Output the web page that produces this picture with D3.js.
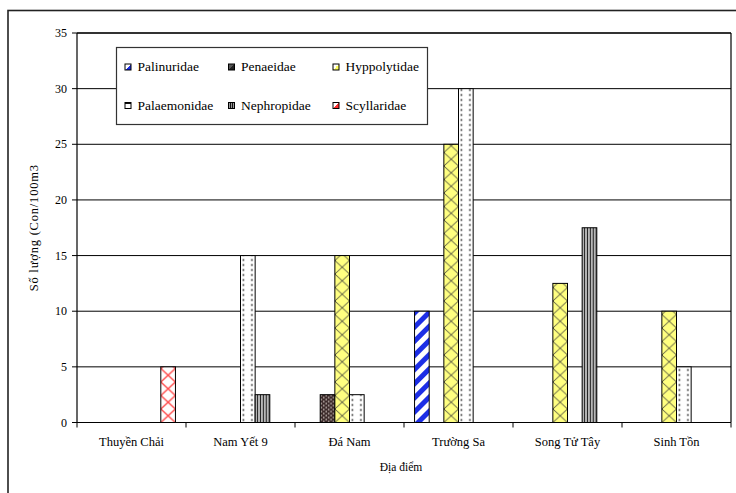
<!DOCTYPE html>
<html>
<head>
<meta charset="utf-8">
<script src="https://cdn.jsdelivr.net/npm/d3@7"></script>
</head>
<body style="margin:0;padding:0;background:#fff">
<svg id="chart" width="736" height="493" style="display:block"></svg>
<script>
// ---------- data ----------
const categories = ["Thuyền Chải", "Nam Yết 9", "Đá Nam", "Trường Sa", "Song Tử Tây", "Sinh Tồn"];
const seriesNames = ["Palinuridae", "Penaeidae", "Hyppolytidae", "Palaemonidae", "Nephropidae", "Scyllaridae"];
const palinuridae  = [0, 0, 0, 10, 0, 0];
const penaeidae    = [0, 0, 2.5, 0, 0, 0];
const hyppolytidae = [0, 0, 15, 25, 12.5, 10];
const palaemonidae = [0, 15, 2.5, 30, 0, 5];
const nephropidae  = [0, 2.5, 0, 0, 17.5, 0];
const scyllaridae  = [5, 0, 0, 0, 0, 0];
const yTicks = [0, 5, 10, 15, 20, 25, 30, 35];
const yTitle = "Số lượng (Con/100m3";
const xTitle = "Địa điểm";

const seriesValues = [palinuridae, penaeidae, hyppolytidae, palaemonidae, nephropidae, scyllaridae];
const FONT = "'Liberation Serif'";

// ---------- layout ----------
const svg = d3.select("#chart");
const defs = svg.append("defs");
const plot = { left: 77, right: 731, top: 33, bottom: 422.5 };

const x = d3.scaleBand().domain(categories).range([plot.left, plot.right]).paddingInner(0).paddingOuter(0);
const xs = d3.scaleBand().domain(seriesNames).range([0, x.bandwidth()]).paddingInner(0).paddingOuter(0.72);
const y = d3.scaleLinear().domain([0, 35]).range([plot.bottom, plot.top]);

function label(sel) {
  return sel.attr("font-family", "Liberation Serif").style("font-family", FONT).attr("fill", "#000");
}

// outer frame
svg.append("rect").attr("x", 8).attr("y", 10.5).attr("width", 760).attr("height", 520)
  .attr("fill", "none").attr("stroke", "#222").attr("stroke-width", 1.6);

// gridlines
svg.append("g").selectAll("line").data(yTicks.filter(d => d > 0 && d < 35)).join("line")
  .attr("x1", plot.left).attr("x2", plot.right)
  .attr("y1", d => y(d)).attr("y2", d => y(d))
  .attr("stroke", "#000").attr("stroke-width", 1);

// plot border
svg.append("line").attr("x1", plot.left).attr("x2", plot.right).attr("y1", plot.top).attr("y2", plot.top)
  .attr("stroke", "#333").attr("stroke-width", 2);
svg.append("line").attr("x1", plot.right).attr("x2", plot.right).attr("y1", plot.top).attr("y2", plot.bottom)
  .attr("stroke", "#000").attr("stroke-width", 1.2);

// ---------- patterns ----------
function makePattern(id, s, px, py) {
  const p = defs.append("pattern").attr("id", id).attr("patternUnits", "userSpaceOnUse");
  if (s === 0) { // blue diagonal stripes
    p.attr("width", 10).attr("height", 10).attr("patternTransform", `translate(${px},${py}) rotate(45)`);
    p.append("rect").attr("width", 10).attr("height", 10).attr("fill", "#fff");
    p.append("rect").attr("width", 5).attr("height", 10).attr("fill", "#1c2ee6");
  } else if (s === 1) { // dark with light dots
    p.attr("width", 4.8).attr("height", 4).attr("x", px).attr("y", py);
    p.append("rect").attr("width", 4.8).attr("height", 4).attr("fill", "#3a2828");
    p.append("circle").attr("cx", 1.2).attr("cy", 1).attr("r", 0.85).attr("fill", "#d8cfc8");
    p.append("circle").attr("cx", 3.6).attr("cy", 3).attr("r", 0.85).attr("fill", "#d8cfc8");
  } else if (s === 2 || s === 5) { // crosshatch lattice
    const w = 14.6, h = 13.5;
    const col = s === 2 ? "#333" : "#ff4a4a";
    const bg = s === 2 ? "#ffff80" : "#fff";
    const sw = s === 2 ? 0.9 : 1.4;
    p.attr("width", w).attr("height", h).attr("x", px).attr("y", py);
    p.append("rect").attr("width", w).attr("height", h).attr("fill", bg);
    p.append("path").attr("d", `M0,0L${w},${h}M${w},0L0,${h}M${-w/2},${h/2}L0,${h}M${w/2},${-h/2}L${w},0`)
      .attr("stroke", col).attr("stroke-width", sw).attr("fill", "none");
  } else if (s === 3) { // white with dark dots
    p.attr("width", 8.4).attr("height", 5).attr("x", px).attr("y", py);
    p.append("rect").attr("width", 8.4).attr("height", 5).attr("fill", "#fff");
    p.append("rect").attr("x", 2.2).attr("y", 1.7).attr("width", 1.6).attr("height", 1.6).attr("fill", "#222");
  } else if (s === 4) { // vertical stripes
    p.attr("width", 2.9).attr("height", 10).attr("x", px).attr("y", py);
    p.append("rect").attr("width", 2.9).attr("height", 10).attr("fill", "#b8b8b8");
    p.append("rect").attr("x", 1.9).attr("width", 1).attr("height", 10).attr("fill", "#222");
  }
  return `url(#${id})`;
}

// ---------- bars ----------
const barData = [];
seriesValues.forEach((vals, s) => {
  vals.forEach((v, c) => {
    if (v > 0) barData.push({ s, c, v, cat: categories[c], name: seriesNames[s] });
  });
});

svg.append("g").selectAll("rect").data(barData).join("rect")
  .attr("x", d => x(d.cat) + xs(d.name))
  .attr("y", d => y(d.v))
  .attr("width", xs.bandwidth())
  .attr("height", d => y(0) - y(d.v))
  .attr("fill", (d, i) => makePattern(`bp${i}`, d.s, x(d.cat) + xs(d.name), y(0)))
  .attr("stroke", "#000").attr("stroke-width", 1);

// ---------- axes ----------
const yAxis = svg.append("g");
yAxis.append("line").attr("x1", plot.left).attr("x2", plot.left).attr("y1", plot.top).attr("y2", plot.bottom)
  .attr("stroke", "#000").attr("stroke-width", 1.2);
yAxis.selectAll("line.tk").data(yTicks).join("line").attr("class", "tk")
  .attr("x1", plot.left - 5).attr("x2", plot.left).attr("y1", d => y(d)).attr("y2", d => y(d))
  .attr("stroke", "#000");
yAxis.selectAll("text").data(yTicks).join("text")
  .attr("x", 67).attr("y", d => y(d)).attr("dy", "0.34em")
  .attr("text-anchor", "end").attr("font-size", 12)
  .call(label)
  .text(d => d);

const xAxis = svg.append("g");
xAxis.append("line").attr("x1", plot.left).attr("x2", plot.right).attr("y1", plot.bottom).attr("y2", plot.bottom)
  .attr("stroke", "#000").attr("stroke-width", 1.2);
const bounds = categories.map(c => x(c)).concat([plot.right]);
xAxis.selectAll("line.tk").data(bounds).join("line").attr("class", "tk")
  .attr("x1", d => d).attr("x2", d => d).attr("y1", plot.bottom).attr("y2", plot.bottom + 5)
  .attr("stroke", "#000");
xAxis.selectAll("text").data(categories).join("text")
  .attr("x", d => x(d) + x.bandwidth() / 2).attr("y", 446)
  .attr("text-anchor", "middle").attr("font-size", 12.5)
  .call(label)
  .text(d => d);

// axis titles
svg.append("text").attr("transform", `translate(38,${(plot.top + plot.bottom) / 2}) rotate(-90)`)
  .attr("text-anchor", "middle").attr("font-size", 12.5).attr("letter-spacing", 0.8)
  .call(label)
  .text(yTitle);
svg.append("text").attr("x", 401).attr("y", 471)
  .attr("text-anchor", "middle").attr("font-size", 11.5)
  .call(label)
  .text(xTitle);

// ---------- legend ----------
const legend = svg.append("g");
legend.append("rect").attr("x", 116.5).attr("y", 47.5).attr("width", 311).attr("height", 77)
  .attr("fill", "#fff").attr("stroke", "#333").attr("stroke-width", 1.2);
const colX = [125, 228.5, 333];
const rowY = [64, 102.5];
const swatchFill = [
  ["#fff", "#1c2ee6"], ["#555", "#222"], ["#fff", "#ffff60"],
  ["#222", "#fff"], null, ["#fff", "#ff3030"]
];
seriesNames.forEach((name, i) => {
  const cx = colX[i % 3], cy = rowY[Math.floor(i / 3)];
  const g = legend.append("g").attr("transform", `translate(${cx},${cy})`);
  if (i === 4) {
    g.append("rect").attr("width", 6).attr("height", 6).attr("fill", "#999");
    [1.5, 3.5].forEach(xx => g.append("rect").attr("x", xx).attr("width", 1).attr("height", 6).attr("fill", "#111"));
  } else if (i === 3) {
    g.append("rect").attr("width", 6).attr("height", 6).attr("fill", "#fff");
    g.append("rect").attr("width", 6).attr("height", 1.5).attr("fill", "#111");
  } else {
    const gid = `lg${i}`;
    const lg = defs.append("linearGradient").attr("id", gid).attr("x1", 0).attr("y1", 0).attr("x2", 1).attr("y2", 1);
    lg.append("stop").attr("offset", "50%").attr("stop-color", swatchFill[i][0]);
    lg.append("stop").attr("offset", "50%").attr("stop-color", swatchFill[i][1]);
    g.append("rect").attr("width", 6).attr("height", 6).attr("fill", `url(#${gid})`);
  }
  g.append("rect").attr("width", 6).attr("height", 6).attr("fill", "none").attr("stroke", "#000").attr("stroke-width", 1);
  legend.append("text").attr("x", cx + 12.5).attr("y", cy + 7)
    .attr("font-size", 13.5)
    .call(label)
    .text(name);
});
</script>
</body>
</html>
